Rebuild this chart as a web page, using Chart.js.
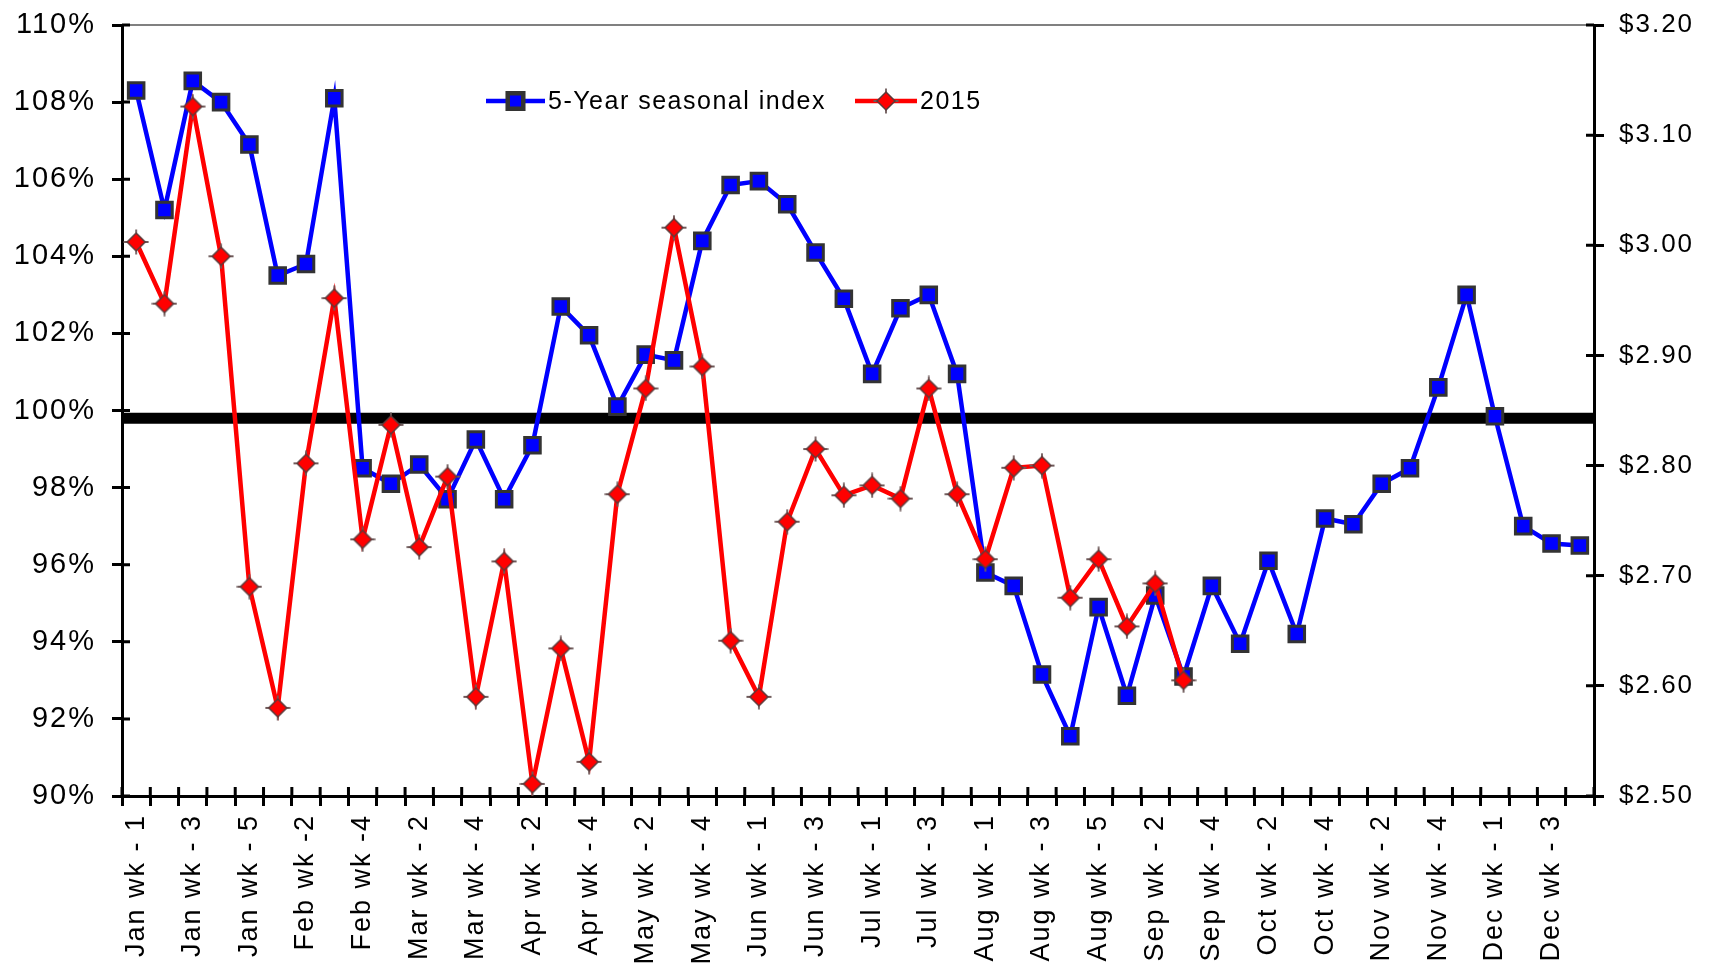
<!DOCTYPE html>
<html>
<head>
<meta charset="utf-8">
<title>5-Year seasonal index vs 2015</title>
<script src="https://cdn.jsdelivr.net/npm/chart.js@4.4.1/dist/chart.umd.min.js"></script>
<style>
  html, body { margin: 0; padding: 0; background: #fff; }
  #wrap { position: relative; width: 1712px; height: 964px; }
</style>
</head>
<body>
<div id="wrap"><canvas id="chart"></canvas></div>
<script>
// Week categories (every other one gets a label on the axis)
const WEEK_LABELS = [
  "Jan wk - 1", "Jan wk - 2", "Jan wk - 3", "Jan wk - 4", "Jan wk - 5",
  "Feb wk -1", "Feb wk -2", "Feb wk -3", "Feb wk -4",
  "Mar wk - 1", "Mar wk - 2", "Mar wk - 3", "Mar wk - 4",
  "Apr wk - 1", "Apr wk - 2", "Apr wk - 3", "Apr wk - 4",
  "May wk - 1", "May wk - 2", "May wk - 3", "May wk - 4", "May wk - 5",
  "Jun wk - 1", "Jun wk - 2", "Jun wk - 3", "Jun wk - 4",
  "Jul wk - 1", "Jul wk - 2", "Jul wk - 3", "Jul wk - 4",
  "Aug wk - 1", "Aug wk - 2", "Aug wk - 3", "Aug wk - 4", "Aug wk - 5",
  "Sep wk - 1", "Sep wk - 2", "Sep wk - 3", "Sep wk - 4",
  "Oct wk - 1", "Oct wk - 2", "Oct wk - 3", "Oct wk - 4",
  "Nov wk - 1", "Nov wk - 2", "Nov wk - 3", "Nov wk - 4", "Nov wk - 5",
  "Dec wk - 1", "Dec wk - 2", "Dec wk - 3", "Dec wk - 4",
];

// 5-year seasonal index, in percent (left axis)
const SEASONAL_INDEX = [
  108.3, 105.2, 108.55, 108.0, 106.9, 103.5, 103.8, 108.1, 98.5, 98.1,
  98.6, 97.7, 99.25, 97.7, 99.1, 102.7, 101.95, 100.1, 101.45, 101.3,
  104.4, 105.85, 105.95, 105.35, 104.1, 102.9, 100.95, 102.65, 103.0, 100.95,
  95.8, 95.45, 93.15, 91.55, 94.9, 92.6, 95.2, 93.1, 95.45, 93.95,
  96.1, 94.2, 97.2, 97.05, 98.1, 98.5, 100.6, 103.0, 99.85, 97.0,
  96.55, 96.5,
];

// 2015 price, in dollars (right axis)
const PRICE_2015 = [
  3.003, 2.947, 3.126, 2.990, 2.690, 2.580, 2.802, 2.952, 2.733, 2.837,
  2.726, 2.790, 2.590, 2.713, 2.511, 2.634, 2.531, 2.774, 2.870, 3.016,
  2.890, 2.641, 2.590, 2.749, 2.815, 2.773, 2.782, 2.770, 2.870, 2.774,
  2.715, 2.798, 2.800, 2.680, 2.715, 2.654, 2.693, 2.605,
  null, null, null, null, null, null, null, null, null, null, null, null, null, null,
];

// Thick reference line on the percent axis
const BASELINE_PCT = 99.8;

// Axis ranges
const PCT_MIN = 90, PCT_MAX = 110, PCT_STEP = 2;
const PRICE_MIN = 2.5, PRICE_MAX = 3.2, PRICE_STEP = 0.1;

const FONT = "'Liberation Sans', Arial, sans-serif";

// Red diamond marker with the little grey cross through it
function makeDiamond() {
  const c = document.createElement("canvas");
  c.width = 26;
  c.height = 26;
  const g = c.getContext("2d");
  g.strokeStyle = "#6e5a5a";
  g.lineWidth = 1.8;
  g.beginPath();
  g.moveTo(13, 0.5); g.lineTo(13, 25.5);
  g.moveTo(0.5, 13); g.lineTo(25.5, 13);
  g.stroke();
  g.beginPath();
  g.moveTo(13, 4); g.lineTo(22, 13); g.lineTo(13, 22); g.lineTo(4, 13);
  g.closePath();
  g.fillStyle = "#ff0000";
  g.fill();
  g.strokeStyle = "#5a3a3a";
  g.lineWidth = 1.5;
  g.stroke();
  return c;
}

const diamond = makeDiamond();

// Fixed axis sizes so the plot sits where the original one does
function fixWidth(w) {
  return (scale) => {
    scale.width = w;
    scale.paddingTop = 0;
    scale.paddingBottom = 0;
  };
}

// Wider letter spacing for all the chart text, like the original
const spacing = {
  id: "spacing",
  beforeDraw(chart) {
    if ("letterSpacing" in chart.ctx) chart.ctx.letterSpacing = "2px";
  },
  afterDraw(chart) {
    if ("letterSpacing" in chart.ctx) chart.ctx.letterSpacing = "0px";
  },
};

// Top grey border and the thick black reference line
const backLines = {
  id: "backLines",
  beforeDatasetsDraw(chart) {
    const { ctx, chartArea: a, scales } = chart;
    ctx.save();
    ctx.strokeStyle = "#808080";
    ctx.lineWidth = 2;
    ctx.beginPath();
    ctx.moveTo(a.left, a.top);
    ctx.lineTo(a.right, a.top);
    ctx.stroke();

    const y = scales.y.getPixelForValue(BASELINE_PCT);
    ctx.strokeStyle = "#000";
    ctx.lineWidth = 11;
    ctx.beginPath();
    ctx.moveTo(a.left, y);
    ctx.lineTo(a.right, y);
    ctx.stroke();
    ctx.restore();
  },
};

// Tick marks poking into the plot (Chart.js only draws them outside)
const innerTicks = {
  id: "innerTicks",
  afterDraw(chart) {
    const { ctx, chartArea: a, scales } = chart;
    const n = WEEK_LABELS.length;
    ctx.save();
    ctx.strokeStyle = "#000";
    ctx.lineWidth = 3;
    ctx.beginPath();
    for (let i = 0; i <= n; i++) {
      const x = a.left + (a.right - a.left) * i / n;
      ctx.moveTo(x, a.bottom);
      ctx.lineTo(x, a.bottom - 9);
    }
    scales.y.ticks.forEach((t) => {
      const y = scales.y.getPixelForValue(t.value);
      ctx.moveTo(a.left, y);
      ctx.lineTo(a.left + 8, y);
    });
    scales.y2.ticks.forEach((t) => {
      const y = scales.y2.getPixelForValue(t.value);
      ctx.moveTo(a.right, y);
      ctx.lineTo(a.right - 8, y);
    });
    ctx.stroke();
    ctx.restore();
  },
};

// Legend drawn inside the plot: line + marker + text
const lineLegend = {
  id: "lineLegend",
  afterDraw(chart) {
    const { ctx } = chart;
    const y = 101;
    const items = [
      { x0: 486, x1: 545, text: "5-Year seasonal index", ds: chart.data.datasets[0] },
      { x0: 855, x1: 917, text: "2015", ds: chart.data.datasets[1] },
    ];
    ctx.save();
    items.forEach((it) => {
      ctx.strokeStyle = it.ds.borderColor;
      ctx.lineWidth = 4.5;
      ctx.beginPath();
      ctx.moveTo(it.x0, y);
      ctx.lineTo(it.x1, y);
      ctx.stroke();

      ctx.fillStyle = it.ds.pointBackgroundColor;
      ctx.strokeStyle = it.ds.pointBorderColor;
      Chart.helpers.drawPoint(ctx, {
        pointStyle: it.ds.pointStyle,
        radius: it.ds.pointRadius,
        rotation: 0,
        borderWidth: it.ds.pointBorderWidth,
      }, (it.x0 + it.x1) / 2, y);

      ctx.fillStyle = "#000";
      ctx.font = "25px " + FONT;
      ctx.textBaseline = "middle";
      ctx.textAlign = "left";
      if ("letterSpacing" in ctx) ctx.letterSpacing = "1.5px";
      ctx.fillText(it.text, it.x1 + 3, y + 1);
    });
    ctx.restore();
  },
};

new Chart(document.getElementById("chart"), {
  type: "line",
  data: {
    labels: WEEK_LABELS,
    datasets: [
      {
        label: "5-Year seasonal index",
        data: SEASONAL_INDEX,
        yAxisID: "y",
        borderColor: "#0000ff",
        borderWidth: 4.5,
        pointStyle: "rect",
        pointRadius: 11,
        pointBackgroundColor: "#0000ff",
        pointBorderColor: "#333333",
        pointBorderWidth: 3,
        tension: 0,
        order: 2,
      },
      {
        label: "2015",
        data: PRICE_2015,
        yAxisID: "y2",
        borderColor: "#ff0000",
        borderWidth: 4.5,
        pointStyle: diamond,
        pointRadius: 11,
        pointBackgroundColor: "#ff0000",
        pointBorderColor: "#5a3a3a",
        pointBorderWidth: 1.5,
        tension: 0,
        order: 1,
      },
    ],
  },
  options: {
    responsive: true,
    maintainAspectRatio: false,
    animation: false,
    layout: { padding: { top: 25, left: 0, right: 0, bottom: 0 } },
    plugins: {
      legend: { display: false },
      tooltip: { enabled: false },
    },
    scales: {
      x: {
        type: "category",
        offset: true,
        grid: {
          offset: true,
          drawOnChartArea: false,
          drawTicks: true,
          tickLength: 10,
          color: "#000",
          lineWidth: 3,
        },
        border: { color: "#000", width: 3 },
        ticks: {
          autoSkip: false,
          maxRotation: 90,
          minRotation: 90,
          padding: 8,
          color: "#000",
          font: { family: FONT, size: 27 },
          callback: (value, index) => (index % 2 === 0 ? WEEK_LABELS[index] : ""),
        },
        afterFit: (scale) => {
          scale.height = 168;
          scale.paddingLeft = 0;
          scale.paddingRight = 0;
        },
      },
      y: {
        position: "left",
        min: PCT_MIN,
        max: PCT_MAX,
        grid: {
          drawOnChartArea: false,
          tickLength: 10,
          color: "#000",
          lineWidth: 3,
        },
        border: { color: "#000", width: 3 },
        ticks: {
          stepSize: PCT_STEP,
          padding: 16,
          color: "#000",
          font: { family: FONT, size: 29 },
          callback: (v) => v + "%",
        },
        afterFit: fixWidth(122),
      },
      y2: {
        position: "right",
        min: PRICE_MIN,
        max: PRICE_MAX,
        grid: {
          drawOnChartArea: false,
          tickLength: 10,
          color: "#000",
          lineWidth: 3,
        },
        border: { color: "#000", width: 3 },
        ticks: {
          stepSize: PRICE_STEP,
          padding: 15,
          color: "#000",
          font: { family: FONT, size: 26 },
          callback: (v) => "$" + Number(v).toFixed(2),
        },
        afterFit: fixWidth(118),
      },
    },
  },
  plugins: [spacing, backLines, innerTicks, lineLegend],
});
</script>
</body>
</html>
